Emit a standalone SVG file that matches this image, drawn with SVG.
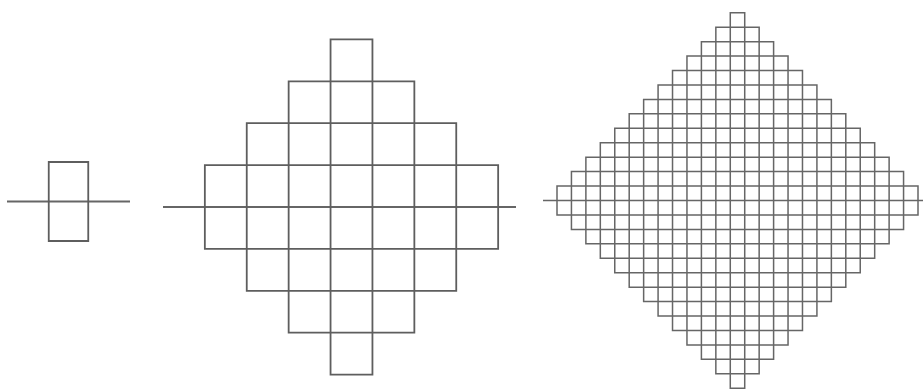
<svg xmlns="http://www.w3.org/2000/svg" width="923" height="391" viewBox="0 0 923 391">
<style>
.g{fill:none;stroke:#5e5e5e;stroke-width:1.8;stroke-linecap:square;vector-effect:non-scaling-stroke}
.d{fill:none;stroke:#666;stroke-width:1.5;stroke-linecap:square;vector-effect:non-scaling-stroke}
.ax{stroke:#666;stroke-width:1.8}
.ax2{stroke:#666;stroke-width:1.5}
</style>
<rect width="923" height="391" fill="#fff"/>
<g id="fig1">
<line class="ax" x1="7" y1="201.5" x2="130" y2="201.5"/>
<g transform="translate(68.5,201.5) scale(39.5)">
<path class="g" d="M-0.5 -1H0.5V1H-0.5Z"/>
</g>
</g>
<g id="fig2">
<line class="ax" x1="163" y1="207" x2="516" y2="207"/>
<g transform="translate(351.5,207) scale(41.9)">
<path class="g" d="M-0.5 -4V4M0.5 -4V4M-1.5 -3V3M1.5 -3V3M-2.5 -2V2M2.5 -2V2M-3.5 -1V1M3.5 -1V1M-3.5 -1H3.5M-3.5 1H3.5M-2.5 -2H2.5M-2.5 2H2.5M-1.5 -3H1.5M-1.5 3H1.5M-0.5 -4H0.5M-0.5 4H0.5"/>
</g>
</g>
<g id="fig3">
<line class="ax2" x1="543" y1="200.5" x2="923" y2="200.5"/>
<g transform="translate(737.5,200.5) scale(14.44)">
<path class="d" d="M-0.5 -13V13M0.5 -13V13M-1.5 -12V12M1.5 -12V12M-2.5 -11V11M2.5 -11V11M-3.5 -10V10M3.5 -10V10M-4.5 -9V9M4.5 -9V9M-5.5 -8V8M5.5 -8V8M-6.5 -7V7M6.5 -7V7M-7.5 -6V6M7.5 -6V6M-8.5 -5V5M8.5 -5V5M-9.5 -4V4M9.5 -4V4M-10.5 -3V3M10.5 -3V3M-11.5 -2V2M11.5 -2V2M-12.5 -1V1M12.5 -1V1M-12.5 -1H12.5M-12.5 1H12.5M-11.5 -2H11.5M-11.5 2H11.5M-10.5 -3H10.5M-10.5 3H10.5M-9.5 -4H9.5M-9.5 4H9.5M-8.5 -5H8.5M-8.5 5H8.5M-7.5 -6H7.5M-7.5 6H7.5M-6.5 -7H6.5M-6.5 7H6.5M-5.5 -8H5.5M-5.5 8H5.5M-4.5 -9H4.5M-4.5 9H4.5M-3.5 -10H3.5M-3.5 10H3.5M-2.5 -11H2.5M-2.5 11H2.5M-1.5 -12H1.5M-1.5 12H1.5M-0.5 -13H0.5M-0.5 13H0.5"/>
</g>
</g>
</svg>
